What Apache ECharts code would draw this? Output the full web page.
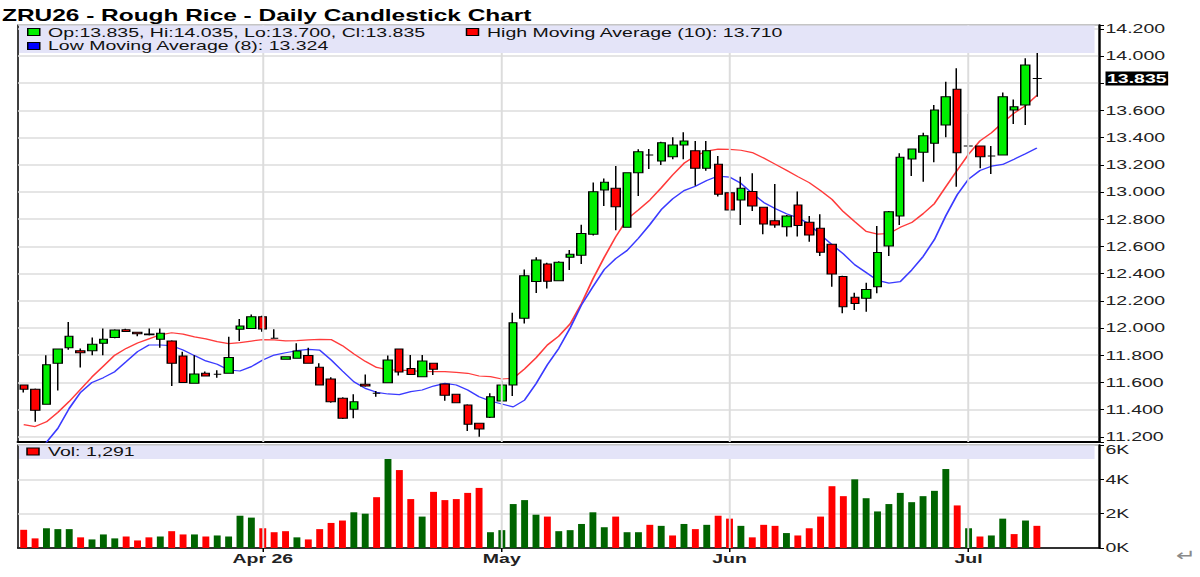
<!DOCTYPE html>
<html lang="en">
<head>
  <meta charset="UTF-8">
  <title>ZRU26 - Rough Rice - Daily Candlestick Chart</title>
  <script src="https://cdn.jsdelivr.net/npm/echarts@6.0.0/dist/echarts.min.js"></script>
  <style>
    * {
      margin: 0;
      padding: 0
    }

    html, body {
      width: 100%;
      height: 100%;
      background: #fff;
      overflow: hidden;
    }

    /* the source picture is stretched sideways: draw it narrow, then widen it */
    #main {
      width: 800px;
      height: 577px;
      transform: scaleX(1.5);
      transform-origin: 0 0;
    }
  </style>
</head>
<body>
<div id="main"></div>
<script type="text/javascript">
  /*-------------------- data --------------------*/
  var dates = [
    '3/3', '3/4', '3/5', '3/6', '3/9', '3/10', '3/11', '3/12', '3/13', '3/16', '3/17', '3/18', '3/19', '3/20',
    '3/23', '3/24', '3/25', '3/26', '3/27', '3/30', '3/31',
    '4/1', '4/2', '4/6', '4/7', '4/8', '4/9', '4/10', '4/13', '4/14', '4/15', '4/16', '4/17', '4/20', '4/21',
    '4/22', '4/23', '4/24', '4/27', '4/28', '4/29', '4/30',
    '5/1', '5/4', '5/5', '5/6', '5/7', '5/8', '5/11', '5/12', '5/13', '5/14', '5/15', '5/18', '5/19', '5/20',
    '5/21', '5/22', '5/26', '5/27', '5/28', '5/29',
    '6/1', '6/2', '6/3', '6/4', '6/5', '6/8', '6/9', '6/10', '6/11', '6/12', '6/15', '6/16', '6/17', '6/18',
    '6/22', '6/23', '6/24', '6/25', '6/26', '6/29', '6/30',
    '7/1', '7/2', '7/6', '7/7', '7/8', '7/9', '7/10',
    '7/13', '7/14', '7/15', '7/16', '7/17'
  ];

  // first trading day of each month -> label on the time axis
  var monthTicks = [['4/1', 'Apr 26'], ['5/1', 'May'], ['6/1', 'Jun'], ['7/1', 'Jul']];

  var opens = [
    11.58, 11.55, 11.44, 11.74, 11.855, 11.833, 11.833, 11.887, 11.93, 11.988,
    11.968, 11.955, 11.917, 11.904, 11.794, 11.593, 11.667, 11.66, 11.667, 11.99,
    11.997, 12.083, 11.924, 11.77, 11.777, 11.797, 11.711, 11.625, 11.483, 11.402,
    11.586, 11.52, 11.598, 11.845, 11.703, 11.642, 11.74, 11.588, 11.512, 11.434,
    11.299, 11.343, 11.463, 11.581, 12.071, 12.341, 12.47, 12.348, 12.52, 12.535,
    12.689, 13.015, 13.027, 12.74, 13.142, 13.272, 13.228, 13.26, 13.346, 13.304,
    13.174, 13.204, 12.995, 12.941, 13.003, 12.887, 12.789, 12.745, 12.905, 12.777,
    12.733, 12.615, 12.378, 12.226, 12.218, 12.304, 12.603, 12.824, 13.243, 13.292,
    13.358, 13.493, 13.755, 13.338, 13.338, 13.265, 13.272, 13.603, 13.64, 13.835
  ];
  var closes = [
    11.55, 11.395, 11.73, 11.845, 11.94, 11.818, 11.88, 11.917, 11.985, 11.975,
    11.958, 11.95, 11.961, 11.74, 11.60, 11.662, 11.647, 11.66, 11.784, 12.015,
    12.083, 11.993, 11.924, 11.789, 11.831, 11.74, 11.581, 11.458, 11.336, 11.458,
    11.573, 11.52, 11.765, 11.676, 11.659, 11.757, 11.696, 11.505, 11.451, 11.292,
    11.257, 11.495, 11.581, 12.039, 12.385, 12.50, 12.343, 12.483, 12.542, 12.694,
    13.002, 13.071, 12.892, 13.142, 13.296, 13.272, 13.363, 13.345, 13.375, 13.174,
    13.304, 12.983, 12.868, 13.027, 12.897, 12.765, 12.757, 12.824, 12.753, 12.684,
    12.557, 12.397, 12.157, 12.181, 12.284, 12.556, 12.855, 13.255, 13.316, 13.414,
    13.603, 13.701, 13.289, 13.338, 13.26, 13.265, 13.701, 13.627, 13.934, 13.835
  ];
  var lows = [
    11.525, 11.31, 11.44, 11.54, 11.84, 11.71, 11.80, 11.80, 11.925, 11.97,
    11.94, 11.945, 11.855, 11.573, 11.60, 11.59, 11.645, 11.635, 11.667, 11.904,
    11.995, 11.973, 11.924, 11.77, 11.775, 11.74, 11.58, 11.45, 11.33, 11.336,
    11.568, 11.495, 11.598, 11.65, 11.655, 11.64, 11.654, 11.466, 11.45, 11.243,
    11.201, 11.338, 11.46, 11.50, 12.034, 12.258, 12.29, 12.345, 12.426, 12.47,
    12.68, 12.897, 12.718, 12.74, 12.97, 13.169, 13.198, 13.24, 13.24, 13.046,
    13.157, 12.966, 12.799, 12.757, 12.86, 12.689, 12.738, 12.672, 12.672, 12.635,
    12.53, 12.304, 12.108, 12.132, 12.12, 12.255, 12.529, 12.757, 13.118, 13.076,
    13.218, 13.402, 13.039, 13.265, 13.174, 13.132, 13.27, 13.50, 13.493, 13.70
  ];
  var highs = [
    11.585, 11.555, 11.80, 11.85, 12.045, 11.85, 11.93, 11.997, 11.99, 11.995,
    11.97, 11.997, 11.997, 11.91, 11.826, 11.80, 11.68, 11.69, 11.936, 12.066,
    12.10, 12.09, 11.99, 11.79, 11.887, 11.855, 11.74, 11.637, 11.49, 11.512,
    11.659, 11.537, 11.797, 11.85, 11.801, 11.801, 11.745, 11.59, 11.515, 11.44,
    11.30, 11.52, 11.61, 12.113, 12.431, 12.52, 12.48, 12.49, 12.573, 12.76,
    13.07, 13.10, 13.192, 13.145, 13.315, 13.316, 13.37, 13.402, 13.439, 13.375,
    13.375, 13.265, 13.113, 13.113, 13.137, 12.89, 13.059, 12.83, 13.003, 12.824,
    12.836, 12.62, 12.385, 12.26, 12.333, 12.75, 12.86, 13.284, 13.32, 13.436,
    13.64, 13.811, 13.909, 13.574, 13.34, 13.338, 13.731, 13.681, 13.983, 14.035
  ];

  // High Moving Average (10)
  var maHigh = [
    11.29, 11.275, 11.31, 11.38, 11.46, 11.55, 11.64, 11.72, 11.80, 11.85,
    11.89, 11.92, 11.95, 11.965, 11.955, 11.935, 11.92, 11.90, 11.885, 11.892,
    11.904, 11.915, 11.912, 11.905, 11.907, 11.912, 11.917, 11.915, 11.87, 11.81,
    11.755, 11.71, 11.693, 11.69, 11.686, 11.68, 11.679, 11.679, 11.674, 11.667,
    11.647, 11.642, 11.625, 11.63, 11.70, 11.78, 11.875, 11.94, 12.03, 12.18,
    12.36, 12.52, 12.67, 12.80, 12.868, 12.941, 13.03, 13.125, 13.211, 13.266,
    13.30, 13.315, 13.314, 13.307, 13.29, 13.25, 13.205, 13.16, 13.113, 13.069,
    13.01, 12.946, 12.855, 12.782, 12.71, 12.69, 12.695, 12.74, 12.775, 12.84,
    12.915, 13.039, 13.16, 13.278, 13.376, 13.435, 13.51, 13.58, 13.635, 13.71
  ];
  // Low Moving Average (8)
  var maLow = [
    10.95, 11.06, 11.16, 11.262, 11.409, 11.527, 11.60, 11.635, 11.679, 11.752,
    11.826, 11.875, 11.875, 11.87, 11.838, 11.797, 11.758, 11.733, 11.691, 11.684,
    11.716, 11.765, 11.801, 11.818, 11.833, 11.843, 11.838, 11.765, 11.684, 11.605,
    11.556, 11.527, 11.515, 11.51, 11.532, 11.544, 11.573, 11.593, 11.581, 11.544,
    11.495, 11.463, 11.441, 11.42, 11.47, 11.59, 11.73, 11.85, 12.0, 12.17,
    12.304, 12.43, 12.51, 12.57, 12.66, 12.76, 12.87, 12.95, 13.01, 13.042,
    13.085, 13.117, 13.11, 13.064, 12.99, 12.923, 12.878, 12.84, 12.81, 12.766,
    12.684, 12.613, 12.545, 12.465, 12.408, 12.35, 12.33, 12.341, 12.426, 12.525,
    12.65, 12.825, 12.98, 13.095, 13.158, 13.19, 13.203, 13.241, 13.282, 13.324
  ];

  var volumes = [
    1060, 560, 1150, 1100, 1100, 620, 500, 790, 560, 670,
    440, 620, 670, 980, 790, 790, 670, 730, 670, 1880,
    1770, 1150, 920, 980, 620, 500, 1100, 1460, 1600, 2080,
    2000, 2960, 5190, 4540, 2850, 1830, 3270, 2790, 2850, 3210,
    3500, 920, 1040, 2560, 2790, 1940, 1830, 980, 1040, 1400,
    2080, 1210, 1830, 920, 920, 1350, 1290, 730, 1400, 1100,
    1350, 1880, 1710, 1290, 620, 1350, 1290, 870, 730, 1150,
    1830, 3600, 3020, 4000, 2900, 2130, 2560, 3210, 2670, 3020,
    3330, 4600, 2480, 1150, 670, 730, 1710, 810, 1600, 1291
  ];

  /*-------------------- chart --------------------*/
  var FONT = 'Liberation Sans';
  var UP = '#00ee00', DOWN = '#ff0000', VOL_UP = '#006400', VOL_DOWN = '#ff0000';
  var GRID_LINE = '#dcdcdc';
  var last = opens.length - 1;

  var candles = opens.map(function (o, i) {
    return [o, closes[i], lows[i], highs[i]];
  });

  // volume bars are coloured by close against the previous close
  var volData = volumes.map(function (v, i) {
    var up = i === 0 ? closes[0] >= opens[0] : closes[i] >= closes[i - 1];
    return {value: v, itemStyle: {color: up ? VOL_UP : VOL_DOWN}};
  });

  var monthLabel = {};
  monthTicks.forEach(function (t) {
    monthLabel[t[0]] = t[1];
  });

  function isMonthStart(index, value) {
    return monthLabel.hasOwnProperty(value);
  }

  // only the 0.2 steps get a label, and none under the last-price tag
  function priceLabel(v) {
    var k = v / 0.2;
    if (Math.abs(k - Math.round(k)) > 1e-6) return '';
    if (Math.abs(v - closes[last]) < 0.06) return '';
    return v.toFixed(3);
  }

  function monthLines() {
    return {
      silent: true,
      symbol: ['none', 'none'],
      label: {show: false},
      lineStyle: {color: GRID_LINE, width: 1.3, type: 'solid'},
      data: monthTicks.map(function (t) {
        return {xAxis: t[0]};
      })
    };
  }

  var ohlcText = 'Op:' + opens[last].toFixed(3) + ', Hi:' + highs[last].toFixed(3) +
    ', Lo:' + lows[last].toFixed(3) + ', Cl:' + closes[last].toFixed(3);
  var hiText = 'High Moving Average (10): ' + maHigh[last].toFixed(3);
  var loText = 'Low Moving Average (8): ' + maLow[last].toFixed(3);
  var volText = 'Vol: ' + volumes[last].toLocaleString('en-US');

  function legendText(x, y, text) {
    return {
      type: 'text', x: x, y: y, z: 101,
      style: {text: text, fontFamily: FONT, fontSize: 13, fill: '#111', verticalAlign: 'middle'}
    };
  }

  function legendBox(x, y, color) {
    return {
      type: 'rect', z: 101,
      shape: {x: x, y: y, width: 8, height: 7},
      style: {fill: color, stroke: '#000', lineWidth: 1}
    };
  }

  var myChart = echarts.init(document.getElementById('main'), null, {renderer: 'svg'});
  myChart.setOption({
    animation: false,
    backgroundColor: '#fff',
    textStyle: {fontFamily: FONT},
    grid: [
      {left: 12, top: 25, width: 721, height: 417, show: true, borderColor: '#000', borderWidth: 1},
      {left: 12, top: 445, width: 721, height: 103, show: true, borderColor: '#000', borderWidth: 1}
    ],
    xAxis: [
      {
        type: 'category', gridIndex: 0, data: dates,
        axisLine: {show: true, lineStyle: {color: '#000', width: 2}},
        axisTick: {show: false},
        axisLabel: {show: false},
        splitLine: {show: false}
      },
      {
        type: 'category', gridIndex: 1, data: dates,
        axisLine: {show: true, lineStyle: {color: '#000', width: 1.5}},
        axisTick: {show: true, alignWithLabel: true, interval: isMonthStart, length: 4, lineStyle: {color: '#000'}},
        axisLabel: {
          interval: isMonthStart,
          formatter: function (v) {
            return monthLabel[v] || '';
          },
          fontFamily: FONT, fontSize: 13, fontWeight: 'bold', color: '#222', margin: 4
        },
        splitLine: {show: false}
      }
    ],
    yAxis: [
      {
        type: 'value', gridIndex: 0, position: 'right',
        min: 11.1618, max: 14.2279, splitNumber: 15, minInterval: 0.2, maxInterval: 0.2,
        axisLine: {show: true, lineStyle: {color: '#000', width: 1.5}},
        axisTick: {show: true, length: 3, lineStyle: {color: '#000'}},
        axisLabel: {formatter: priceLabel, fontFamily: FONT, fontSize: 13, color: '#222', margin: 4},
        splitLine: {show: true, lineStyle: {color: GRID_LINE, width: 1.5}}
      },
      {
        type: 'value', gridIndex: 1, position: 'right',
        min: 0, max: 6000, interval: 2000,
        axisLine: {show: true, lineStyle: {color: '#000', width: 1.5}},
        axisTick: {show: true, length: 3, lineStyle: {color: '#000'}},
        axisLabel: {
          formatter: function (v) {
            // the top label is nudged down so it clears 11.200 above it
            return v === 6000 ? '{top|6K}' : (v / 1000) + 'K';
          },
          rich: {top: {padding: [9, 0, 0, 0], fontFamily: FONT, fontSize: 13, color: '#222'}},
          fontFamily: FONT, fontSize: 13, color: '#222', margin: 4
        },
        splitLine: {show: true, lineStyle: {color: GRID_LINE, width: 1.5}}
      }
    ],
    series: [
      {
        name: 'months', type: 'line', xAxisIndex: 0, yAxisIndex: 0, data: [], z: 1,
        markLine: monthLines()
      },
      {
        name: 'months-vol', type: 'line', xAxisIndex: 1, yAxisIndex: 1, data: [], z: 1,
        markLine: monthLines()
      },
      {
        name: 'High Moving Average (10)', type: 'line', xAxisIndex: 0, yAxisIndex: 0,
        data: maHigh, symbol: 'none', z: 2,
        lineStyle: {color: '#ff3b3b', width: 1.2}
      },
      {
        name: 'Low Moving Average (8)', type: 'line', xAxisIndex: 0, yAxisIndex: 0,
        data: maLow, symbol: 'none', z: 2,
        lineStyle: {color: '#3b3bff', width: 1.2}
      },
      {
        name: 'ZRU26', type: 'candlestick', xAxisIndex: 0, yAxisIndex: 0,
        data: candles, barWidth: 6, z: 3,
        itemStyle: {
          color: UP, color0: DOWN,
          borderColor: '#000', borderColor0: '#000', borderColorDoji: '#000',
          borderWidth: 1
        }
      },
      {
        name: 'Vol', type: 'bar', xAxisIndex: 1, yAxisIndex: 1,
        data: volData, barWidth: 4.6, z: 3
      }
    ],
    graphic: [
      {
        type: 'text', x: 1.3, y: 15.5, z: 101,
        style: {
          text: 'ZRU26 - Rough Rice - Daily Candlestick Chart',
          fontFamily: FONT, fontSize: 16.3, fontWeight: 'bold', fill: '#000', verticalAlign: 'middle'
        }
      },
      {type: 'rect', z: 100, shape: {x: 12.7, y: 25.5, width: 717, height: 27.5}, style: {fill: '#e4e4f8'}},
      legendBox(18.5, 28.5, UP),
      legendText(32, 32.5, ohlcText),
      legendBox(311, 28.5, DOWN),
      legendText(324.7, 32.5, hiText),
      legendBox(18.5, 42.5, '#0000ff'),
      legendText(32, 46, loText),
      {type: 'rect', z: 100, shape: {x: 12.7, y: 445.5, width: 717, height: 13.5}, style: {fill: '#e4e4f8'}},
      legendBox(18, 448, DOWN),
      legendText(32, 452, volText),
      {
        type: 'text', x: 784, y: 556, z: 101,
        style: {text: '\u21b5', fontFamily: 'DejaVu Sans', fontSize: 16, fill: '#8a8a8a', verticalAlign: 'middle'}
      }
    ]
  });

  // last-price tag on the price axis, placed through the axis scale
  var tagY = myChart.convertToPixel({yAxisIndex: 0}, closes[last]);
  myChart.setOption({
    graphic: [{
      id: 'lastPrice', type: 'text', x: 737, y: tagY, z: 102,
      style: {
        text: closes[last].toFixed(3),
        fontFamily: FONT, fontSize: 13, fontWeight: 'bold', fill: '#fff',
        backgroundColor: '#000', padding: [1, 1, 0, 1], verticalAlign: 'middle'
      }
    }]
  });
</script>
</body>
</html>
